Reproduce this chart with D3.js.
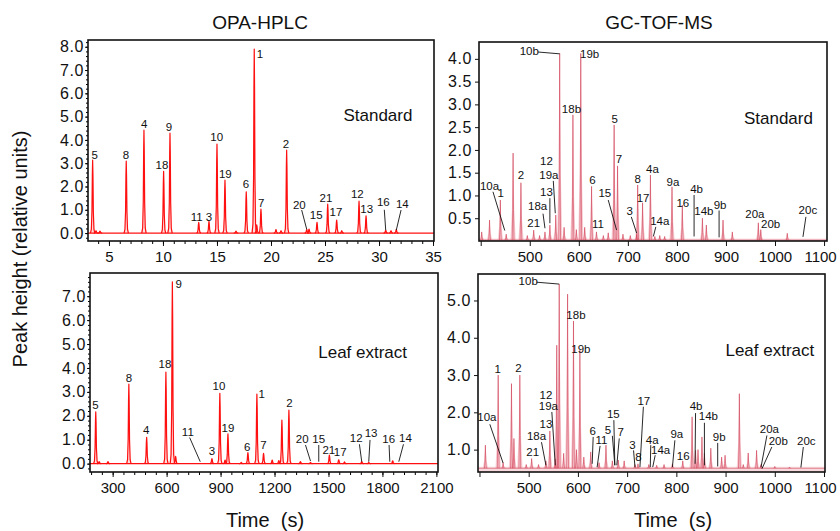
<!DOCTYPE html>
<html>
<head>
<meta charset="utf-8">
<script src="https://cdnjs.cloudflare.com/ajax/libs/d3/7.8.5/d3.min.js"></script>
<style>
  body { margin: 0; background: #fff; }
  svg text { font-family: "Liberation Sans", Arial, Helvetica, sans-serif; fill: #111; }
</style>
</head>
<body>
<script>
// ---- OPA-HPLC, standard (time in min): [time, height]
var hplcStdPeaks = [
  [3.49, 3.13], [3.8, 0.1], [4.17, 0.08], [6.6, 3.09], [8.24, 4.42], [10.06, 2.65],
  [10.65, 4.29], [13.31, 0.46], [14.26, 0.5], [15.0, 3.82], [15.74, 2.27], [16.76, 0.08],
  [17.71, 1.77], [18.45, 7.9], [18.68, 0.35], [19.07, 1.03], [20.46, 0.15], [20.93, 0.1],
  [21.45, 3.56], [23.31, 0.15], [23.52, 0.17], [24.26, 0.46], [25.25, 1.24], [26.08, 0.56],
  [26.55, 0.1], [28.15, 1.37], [28.8, 0.74], [30.62, 0.12], [31.11, 0.1], [31.6, 0.15]
];
var hplcStdLabels = [
  ['5', 3.68, 3.18], ['8', 6.57, 3.18], ['4', 8.27, 4.5], ['18', 9.91, 2.73], ['9', 10.56, 4.38],
  ['11', 13.12, 0.51], ['3', 14.26, 0.51], ['10', 14.97, 3.94], ['19', 15.77, 2.36], ['6', 17.69, 1.94],
  ['1', 18.98, 7.5], ['7', 19.1, 1.13], ['2', 21.39, 3.66], ['20', 22.62, 1.03], ['15', 24.19, 0.6],
  ['21', 25.09, 1.34], ['17', 26.02, 0.73], ['12', 27.99, 1.49], ['13', 28.86, 0.87],
  ['16', 30.4, 1.17], ['14', 32.16, 1.06]
];
var hplcStdLeaders = [[22.84, 0.99, 23.31, 0.16], [30.49, 1.0, 30.62, 0.13], [32.04, 0.99, 31.6, 0.13]];

// ---- OPA-HPLC, leaf extract (time in s)
var hplcLeafPeaks = [
  [206, 2.17], [225, 0.08], [274, 0.08], [390, 3.33], [489, 1.1], [596, 3.83], [632, 7.6],
  [650, 0.3], [852, 0.21], [896, 2.94], [925, 0.15], [941, 1.25], [1015, 0.05], [1052, 0.46],
  [1102, 2.91], [1139, 0.43], [1187, 0.15], [1224, 0.13], [1241, 1.82], [1280, 2.24],
  [1344, 0.08], [1400, 0.05], [1505, 0.36], [1557, 0.16], [1589, 0.07], [1685, 0.08],
  [1724, 0.05], [1857, 0.12]
];
var hplcLeafLabels = [
  ['5', 204, 2.27], ['8', 391, 3.42], ['4', 487, 1.23], ['18', 591, 3.98], ['9', 667, 7.35],
  ['11', 718, 1.16], ['3', 852, 0.36], ['10', 891, 3.08], ['19', 941, 1.34], ['6', 1048, 0.53],
  ['1', 1129, 2.76], ['7', 1139, 0.6], ['2', 1283, 2.38], ['20', 1354, 0.88], ['15', 1446, 0.88],
  ['21', 1502, 0.4], ['17', 1565, 0.32], ['12', 1654, 0.92], ['13', 1737, 1.1], ['16', 1835, 0.88],
  ['14', 1928, 0.92]
];
var hplcLeafLeaders = [
  [728, 1.09, 787, 0.08], [1372, 0.78, 1400, 0.11], [1446, 0.78, 1446, 0.08],
  [1672, 0.81, 1685, 0.08], [1731, 0.99, 1724, 0.08], [1837, 0.78, 1841, 0.08], [1917, 0.81, 1891, 0.08]
];

// ---- GC-TOF-MS, standard (time in s)
var gcStdPeaks = [
  [402, 0.2], [418, 0.46], [440, 0.9], [452, 0.15], [466, 1.93], [482, 1.28], [495, 0.12],
  [508, 0.24], [520, 0.12], [531, 0.2], [541, 0.35], [553, 0.57], [561, 4.12], [570, 0.3],
  [588, 2.77], [595, 0.25], [604, 4.12], [612, 0.3], [626, 1.2], [636, 0.2], [650, 0.12],
  [660, 0.18], [672, 2.55], [679, 1.65], [690, 0.15], [705, 0.12], [718, 0.15], [720, 1.23],
  [730, 0.84], [746, 1.45], [755, 0.1], [765, 0.12], [775, 0.1], [790, 1.19], [811, 0.79],
  [852, 0.5], [860, 0.35], [894, 0.46], [913, 0.2], [966, 0.4], [971, 0.25], [1025, 0.17]
];
var gcStdLabels = [
  ['10a', 418, 1.12], ['1', 441, 0.97], ['2', 482, 1.36], ['12', 534, 1.66], ['19a', 539, 1.36],
  ['13', 534, 0.99], ['18a', 516, 0.68], ['21', 508, 0.31], ['10b', 499, 4.09], ['19b', 622, 4.02],
  ['18b', 585, 2.82], ['5', 673, 2.6], ['7', 682, 1.72], ['6', 628, 1.25], ['11', 639, 0.28],
  ['15', 653, 0.96], ['3', 704, 0.57], ['8', 720, 1.28], ['17', 731, 0.85], ['4a', 750, 1.5],
  ['14a', 765, 0.35], ['9a', 792, 1.21], ['16', 812, 0.74], ['4b', 840, 1.05], ['14b', 855, 0.56],
  ['9b', 888, 0.7], ['20a', 959, 0.5], ['20b', 991, 0.28], ['20c', 1067, 0.59]
];
var gcStdLeaders = [
  [425, 1.08, 449, 0.23], [548, 1.32, 552, 0.61], [541, 0.94, 541, 0.39], [527, 0.6, 531, 0.28],
  [517, 4.15, 561, 4.11], [660, 0.9, 677, 0.24], [707, 0.53, 718, 0.17], [757, 0.31, 752, 0.1],
  [835, 1.01, 835, 0.1], [886, 0.67, 886, 0.08], [1063, 0.53, 1057, 0.09]
];

// ---- GC-TOF-MS, leaf extract (time in s)
var gcLeafPeaks = [
  [412, 1.12], [438, 3.0], [448, 0.65], [465, 2.77], [470, 1.3], [482, 3.0], [495, 0.6],
  [506, 0.76], [520, 0.6], [535, 0.7], [543, 1.5], [554, 0.75], [557, 3.8], [562, 5.44],
  [571, 0.9], [579, 5.17], [591, 4.45], [597, 1.0], [604, 3.67], [612, 0.8], [626, 0.94],
  [643, 0.65], [657, 1.12], [670, 0.7], [682, 0.72], [694, 0.7], [716, 0.6], [722, 0.62],
  [744, 0.6], [760, 0.58], [775, 0.6], [792, 0.62], [813, 0.7], [832, 1.88], [839, 0.98],
  [844, 1.0], [852, 1.34], [857, 0.9], [870, 1.04], [892, 0.8], [899, 0.85], [928, 2.5],
  [936, 0.6], [946, 0.91], [963, 0.98], [972, 0.6], [1000, 0.55], [1030, 0.53]
];
var gcLeafLabels = [
  ['10a', 415, 1.77], ['1', 437, 3.06], ['2', 479, 3.09], ['12', 535, 2.37], ['19a', 540, 2.06],
  ['13', 535, 1.59], ['18a', 516, 1.27], ['21', 508, 0.82], ['10b', 499, 5.42], ['18b', 596, 4.49],
  ['19b', 606, 3.58], ['6', 630, 1.4], ['11', 648, 1.14], ['5', 661, 1.42], ['15', 672, 1.86],
  ['7', 687, 1.36], ['3', 711, 1.03], ['8', 723, 0.69], ['17', 734, 2.21], ['4a', 751, 1.16],
  ['14a', 768, 0.89], ['9a', 801, 1.3], ['16', 814, 0.71], ['4b', 840, 2.06], ['14b', 865, 1.79],
  ['9b', 887, 1.23], ['20a', 989, 1.45], ['20b', 1007, 1.12], ['20c', 1064, 1.12]
];
var gcLeafLeaders = [
  [421, 1.68, 448, 0.64], [547, 2.01, 554, 0.58], [526, 1.2, 535, 0.58], [516, 5.49, 562, 5.44],
  [631, 1.34, 629, 0.62], [645, 1.1, 639, 0.53], [670, 1.37, 675, 0.58], [673, 1.79, 675, 0.58],
  [684, 1.3, 679, 0.58], [713, 0.98, 716, 0.53], [733, 2.15, 726, 0.53], [748, 1.12, 747, 0.53],
  [757, 0.85, 752, 0.53], [797, 1.25, 792, 0.53], [839, 1.98, 838, 0.62], [857, 1.72, 857, 0.58],
  [884, 1.18, 884, 0.55], [984, 1.38, 972, 0.53], [994, 1.07, 974, 0.49], [1058, 1.07, 1053, 0.52]
];

var hplcMinTicks = [5, 10, 15, 20, 25, 30, 35];
var hplcSecTicks = [300, 600, 900, 1200, 1500, 1800, 2100];
var gcTicks = [500, 600, 700, 800, 900, 1000, 1100];

// normalised outline of one peak (offset in half-widths, fraction of height)
var hplcShape = [[-1, 0], [-0.6, 0.05], [-0.32, 0.3], [-0.14, 0.8], [0, 1], [0.14, 0.8], [0.32, 0.3], [0.6, 0.05], [1, 0]];
var gcShape = [[-1, 0], [-0.45, 0.35], [0, 1], [0.45, 0.35], [1, 0]];

var width = 840, height = 531;
var svg = d3.select('body').append('svg')
  .attr('width', width)
  .attr('height', height);

var clipId = 0;

function drawPanel(o) {
  var x = d3.scaleLinear().domain(o.xDomain).range([o.left, o.right]);
  var y = d3.scaleLinear().domain(o.yDomain).range([o.bottom, o.top]);
  var g = svg.append('g');

  var cid = 'clip' + (clipId++);
  g.append('clipPath').attr('id', cid)
    .append('rect')
    .attr('x', o.left).attr('y', o.top)
    .attr('width', o.right - o.left).attr('height', o.bottom - o.top);

  var plot = g.append('g').attr('clip-path', 'url(#' + cid + ')');

  function peakPath(p, shape, w) {
    return d3.line()
      .x(function(s) { return x(p[0] + s[0] * w); })
      .y(function(s) { return y(o.base + s[1] * (p[1] - o.base)); })(shape);
  }

  if (o.kind === 'hplc') {
    plot.selectAll('.fill').data(o.peaks).enter().append('path')
      .attr('d', function(p) { return peakPath(p, hplcShape, o.halfWidth * 1.4); })
      .attr('fill', 'rgba(255,70,70,0.18)');
    plot.append('line')
      .attr('x1', o.left).attr('x2', o.right)
      .attr('y1', y(o.base)).attr('y2', y(o.base))
      .attr('stroke', '#ff1010').attr('stroke-width', 1.4);
    plot.selectAll('.pk').data(o.peaks).enter().append('path')
      .attr('d', function(p) { return peakPath(p, hplcShape, o.halfWidth); })
      .attr('fill', 'none')
      .attr('stroke', '#ff1010')
      .attr('stroke-width', 1.2)
      .attr('stroke-linejoin', 'round');
  } else {
    plot.append('rect')
      .attr('x', o.left).attr('width', o.right - o.left)
      .attr('y', y(o.base) - 1.5).attr('height', o.bottom - y(o.base) + 1.5)
      .attr('fill', 'rgba(230,130,145,0.3)');
    plot.selectAll('.halo').data(o.peaks).enter().append('path')
      .attr('d', function(p) { return peakPath(p, gcShape, o.halfWidth * 1.8) + 'Z'; })
      .attr('fill', 'rgba(238,140,155,0.42)');
    plot.selectAll('.pk').data(o.peaks).enter().append('path')
      .attr('d', function(p) { return peakPath(p, gcShape, o.halfWidth * 0.6); })
      .attr('fill', 'none')
      .attr('stroke', 'rgba(205,50,75,0.6)')
      .attr('stroke-width', 0.9);
    plot.append('line')
      .attr('x1', o.left).attr('x2', o.right)
      .attr('y1', y(o.base)).attr('y2', y(o.base))
      .attr('stroke', 'rgba(210,70,90,0.6)').attr('stroke-width', 1);
  }

  // axes
  var xAxis = d3.axisBottom(x).tickValues(o.xTicks).tickSize(5).tickPadding(5).tickFormat(d3.format('d'));
  var xg = g.append('g').attr('transform', 'translate(0,' + o.bottom + ')').call(xAxis);
  if (o.xMinor) {
    g.append('g').attr('transform', 'translate(0,' + o.bottom + ')')
      .call(d3.axisBottom(x).tickValues(o.xMinor).tickSize(3).tickFormat(''))
      .select('.domain').remove();
  }
  var yAxis = d3.axisLeft(y).tickValues(o.yTicks).tickSize(o.yTickSize).tickPadding(o.yPad)
    .tickFormat(d3.format('.1f'));
  var yg = g.append('g').attr('transform', 'translate(' + o.left + ',0)').call(yAxis);
  if (o.yMinor) {
    g.append('g').attr('transform', 'translate(' + o.left + ',0)')
      .call(d3.axisLeft(y).tickValues(o.yMinor).tickSize(2).tickFormat(''))
      .select('.domain').remove();
  }
  [xg, yg].forEach(function(a) {
    a.select('.domain').remove();
    a.selectAll('.tick line').attr('stroke', '#111').attr('stroke-width', 1);
    a.selectAll('.tick text').attr('fill', '#111')
      .style('font-family', '"Liberation Sans", Arial, sans-serif');
  });
  xg.selectAll('.tick text').attr('font-size', 15);
  yg.selectAll('.tick text').attr('font-size', 16).attr('letter-spacing', 0.6);
  xg.selectAll('.tick text').filter(function(d) { return d === 1100; }).attr('dx', -4);
  if (o.hideXLabels) {
    xg.selectAll('.tick text').filter(function(d) { return o.hideXLabels.indexOf(d) >= 0; }).remove();
  }

  // frame
  g.append('rect')
    .attr('x', o.left).attr('y', o.top)
    .attr('width', o.right - o.left).attr('height', o.bottom - o.top)
    .attr('fill', 'none').attr('stroke', '#111').attr('stroke-width', 1.6);

  // peak annotations
  g.selectAll('.lead').data(o.leaders).enter().append('line')
    .attr('x1', function(d) { return x(d[0]); })
    .attr('y1', function(d) { return y(d[1]); })
    .attr('x2', function(d) { return x(d[2]); })
    .attr('y2', function(d) { return y(d[3]); })
    .attr('stroke', '#111').attr('stroke-width', 0.9);
  g.selectAll('.lab').data(o.labels).enter().append('text')
    .attr('x', function(d) { return x(d[1]); })
    .attr('y', function(d) { return y(d[2]); })
    .attr('text-anchor', 'middle')
    .attr('font-size', 11.5)
    .text(function(d) { return d[0]; });

  g.append('text')
    .attr('x', x(o.tag[1])).attr('y', y(o.tag[2]))
    .attr('text-anchor', 'middle')
    .attr('font-size', 17)
    .text(o.tag[0]);
}

function seq(a, b, step) {
  return d3.range(Math.round((b - a) / step) + 1).map(function(i) { return +(a + i * step).toFixed(3); });
}

drawPanel({
  kind: 'hplc', left: 88, right: 434, top: 40, bottom: 241,
  xDomain: [3.06, 35.09], yDomain: [-0.34, 8.29], base: 0, halfWidth: 0.2,
  xTicks: hplcMinTicks, xMinor: seq(4, 35, 1),
  yTicks: seq(0, 8, 1), yMinor: seq(-0.2, 8.2, 0.2), yTickSize: 3, yPad: 1,
  peaks: hplcStdPeaks, labels: hplcStdLabels, leaders: hplcStdLeaders,
  tag: ['Standard', 29.9, 4.82]
});

drawPanel({
  kind: 'hplc', left: 90, right: 438, top: 273, bottom: 472,
  xDomain: [174, 2109], yDomain: [-0.35, 7.97], base: 0, halfWidth: 12,
  xTicks: hplcSecTicks, xMinor: seq(180, 2100, 60),
  yTicks: seq(0, 7, 1), yMinor: seq(-0.2, 7.8, 0.2), yTickSize: 3, yPad: 1,
  peaks: hplcLeafPeaks, labels: hplcLeafLabels, leaders: hplcLeafLeaders,
  tag: ['Leaf extract', 1690, 4.42]
});

drawPanel({
  kind: 'gc', left: 479, right: 827, top: 42, bottom: 241,
  xDomain: [396.5, 1106], yDomain: [0, 4.37], base: 0.02, halfWidth: 3,
  xTicks: [400].concat(gcTicks), hideXLabels: [400],
  yTicks: seq(0.5, 4, 0.5), yTickSize: 4, yPad: 3,
  peaks: gcStdPeaks, labels: gcStdLabels, leaders: gcStdLeaders,
  tag: ['Standard', 1007, 2.57]
});

drawPanel({
  kind: 'gc', left: 478, right: 825, top: 274, bottom: 472,
  xDomain: [397, 1102], yDomain: [0.4, 5.71], base: 0.5, halfWidth: 3,
  xTicks: [400].concat(gcTicks), hideXLabels: [400],
  yTicks: seq(1, 5, 1), yTickSize: 4, yPad: 3,
  peaks: gcLeafPeaks, labels: gcLeafLabels, leaders: gcLeafLeaders,
  tag: ['Leaf extract', 990, 3.51]
});

// titles
svg.append('text').attr('x', 260).attr('y', 29).attr('text-anchor', 'middle')
  .attr('font-size', 19).text('OPA-HPLC');
svg.append('text').attr('x', 659).attr('y', 29).attr('text-anchor', 'middle')
  .attr('font-size', 19).text('GC-TOF-MS');
svg.append('text').attr('x', 265).attr('y', 527).attr('text-anchor', 'middle')
  .attr('font-size', 20).attr('xml:space', 'preserve').text('Time  (s)');
svg.append('text').attr('x', 673).attr('y', 527).attr('text-anchor', 'middle')
  .attr('font-size', 20).attr('xml:space', 'preserve').text('Time  (s)');
svg.append('text')
  .attr('transform', 'translate(27,249) rotate(-90)')
  .attr('text-anchor', 'middle')
  .attr('font-size', 20)
  .text('Peak height (relative units)');
</script>
</body>
</html>
